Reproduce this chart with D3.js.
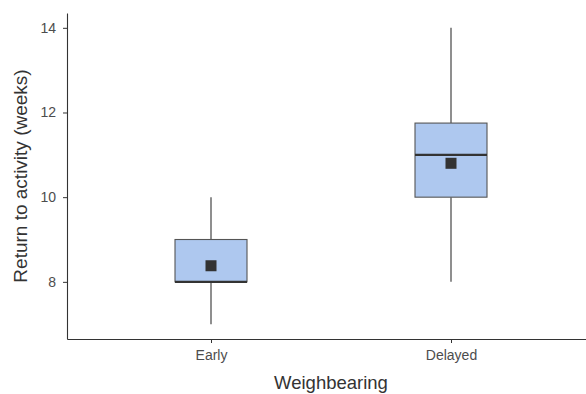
<!DOCTYPE html>
<html><head><meta charset="utf-8">
<script src="https://cdn.jsdelivr.net/npm/d3@7"></script>
<style>body{margin:0;background:#fff}</style>
</head><body>
<svg id="c" width="586" height="394"></svg>
<script>
const categories = ["Early", "Delayed"];
const whiskerLow = [7, 8];
const q1 = [8, 10];
const medians = [8, 11];
const q3 = [9, 11.75];
const whiskerHigh = [10, 14];
const means = [8.38, 10.8];
const yTicks = [8, 10, 12, 14];

const svg = d3.select("#c");
const padL = 67, padT = 13, padB = 339, padR = 595;
const y = d3.scaleLinear().domain([6.65, 14.35]).range([padB, padT]);
const x = d3.scaleLinear().domain([0.4, 2.6]).range([padL, padR]);
const boxW = 0.3;
const font = "'Liberation Sans', Arial, sans-serif";

// axes
const yAxis = svg.append("g").attr("transform", `translate(${padL},0)`)
  .call(d3.axisLeft(y).tickValues(yTicks).tickSize(4).tickSizeOuter(0).tickPadding(7).tickFormat(d3.format("d")));
const xAxis = svg.append("g").attr("transform", `translate(0,${padB})`)
  .call(d3.axisBottom(x).tickValues([1, 2]).tickSize(4).tickSizeOuter(0).tickPadding(7).tickFormat(d => categories[d - 1]));
[yAxis, xAxis].forEach(a => {
  a.select(".domain").attr("stroke", "#333").attr("stroke-width", 1.1);
  a.selectAll(".tick line").attr("stroke", "#333");
  a.selectAll(".tick text").attr("fill", "#4d4d4d").style("font-family", font).style("font-size", "14px");
});

const g = svg.append("g");
categories.forEach((c, i) => {
  const cx = x(i + 1);
  g.append("line").attr("x1", cx).attr("x2", cx).attr("y1", y(whiskerHigh[i])).attr("y2", y(q3[i]))
    .attr("stroke", "#333").attr("stroke-width", 1.1);
  g.append("line").attr("x1", cx).attr("x2", cx).attr("y1", y(q1[i])).attr("y2", y(whiskerLow[i]))
    .attr("stroke", "#333").attr("stroke-width", 1.1);
  g.append("rect").attr("x", x(i + 1 - boxW / 2)).attr("width", x(i + 1 + boxW / 2) - x(i + 1 - boxW / 2))
    .attr("y", y(q3[i])).attr("height", y(q1[i]) - y(q3[i]))
    .attr("fill", "#aec8ef").attr("stroke", "#555").attr("stroke-width", 1.1);
  g.append("line").attr("x1", x(i + 1 - boxW / 2)).attr("x2", x(i + 1 + boxW / 2))
    .attr("y1", y(medians[i])).attr("y2", y(medians[i])).attr("stroke", "#333").attr("stroke-width", 2.2);
  g.append("rect").attr("x", cx - 5.5).attr("y", y(means[i]) - 5.5).attr("width", 11).attr("height", 11)
    .attr("fill", "#333");
});

svg.append("text").attr("x", (padL + padR) / 2).attr("y", 389).attr("text-anchor", "middle")
  .style("font-family", font).style("font-size", "18.5px").attr("fill", "#333").text("Weighbearing");
svg.append("text").attr("transform", `translate(27,${(padT + padB) / 2}) rotate(-90)`).attr("text-anchor", "middle")
  .style("font-family", font).style("font-size", "19px").attr("fill", "#333").text("Return to activity (weeks)");
</script>
</body></html>
